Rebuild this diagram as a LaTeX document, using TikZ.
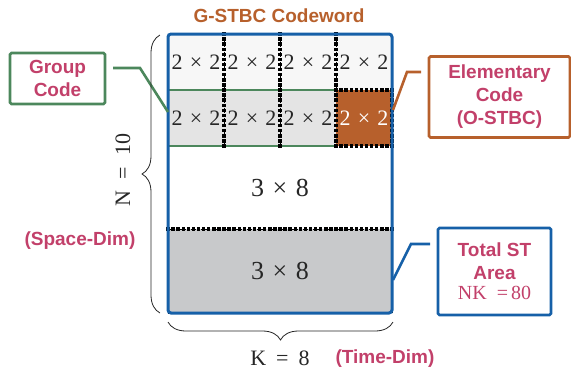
\documentclass[tikz,border=0pt]{standalone}
\usepackage{fontspec}
\setmainfont{Liberation Serif}
\setsansfont{Liberation Sans}
\usetikzlibrary{decorations.pathreplacing,calc}
\definecolor{cblue}{RGB}{22,96,168}
\definecolor{corange}{RGB}{183,96,44}
\definecolor{cgreen}{RGB}{76,135,92}
\definecolor{cmag}{RGB}{194,64,106}
\definecolor{rowA}{RGB}{247,247,247}
\definecolor{rowB}{RGB}{228,228,228}
\definecolor{rowD}{RGB}{200,201,203}
\newcommand{\bytimes}{\hspace{.33em}×\hspace{.33em}}
% row of small black squares between two points (#3 intervals)
\newcommand{\sqline}[3]{\foreach \k in {0,...,#3}{\fill[black] ($(#1)!\k/#3!(#2)$) +(-1.7,-1.7) rectangle +(1.7,1.7);}}
\begin{document}
\begin{tikzpicture}[x=1pt,y=-1pt,
  cell/.style={minimum width=56pt,minimum height=56pt,inner sep=0pt,outer sep=0pt,
    draw=black,dash pattern=on 2pt off 1.5pt,line width=0.6pt,font=\fontsize{22}{24}\selectfont,text=black!85},
  bigrow/.style={minimum width=224pt,inner sep=0pt,outer sep=0pt,
    font=\fontsize{26}{28}\selectfont,text=black!85},
  lab/.style={font=\sffamily\bfseries\fontsize{19}{23}\selectfont,text=cmag,align=center},
  callout/.style={lab,line width=2.6pt,rounded corners=1.5pt,inner sep=0pt,outer sep=0pt},
  conn/.style={line width=2.6pt},
  bracestyle/.style={decorate,decoration={brace,amplitude=18pt},line width=0.8pt,draw=black!85},
  mathlab/.style={font=\fontsize{22}{24}\selectfont,text=black!85}
]
\useasboundingbox (0,0) rectangle (571,370);

% title
\node[font=\sffamily\bfseries\fontsize{19}{23}\selectfont,text=corange] (title) at (279,16) {G-STBC Codeword};

% row 1
\node[cell,fill=rowA] (c11) at (196,62) {2\bytimes 2};
\node[cell,fill=rowA] (c12) at (252,62) {2\bytimes 2};
\node[cell,fill=rowA] (c13) at (308,62) {2\bytimes 2};
\node[cell,fill=rowA] (c14) at (364,62) {2\bytimes 2};
% row 2
\node[cell,fill=rowB] (c21) at (196,118) {2\bytimes 2};
\node[cell,fill=rowB] (c22) at (252,118) {2\bytimes 2};
\node[cell,fill=rowB] (c23) at (308,118) {2\bytimes 2};
\node[cell,fill=corange,text=white,draw=none] (c24) at (364,118) {2\bytimes 2};
% big rows
\node[bigrow,minimum height=83pt,fill=white] (r3) at (280,187.5) {3\bytimes 8};
\node[bigrow,minimum height=84pt,fill=rowD,draw=black,dash pattern=on 2pt off 1.5pt,line width=0.6pt] (r4) at (280,271) {3\bytimes 8};

% group code outline
\draw[cgreen,line width=2pt] (c21.north west) -- (c23.north east);
\draw[cgreen,line width=2pt] (c21.south west) -- (c23.south east);
% thick dotted dividers
\sqline{c11.north east}{c11.south east}{11}
\sqline{c12.north east}{c12.south east}{11}
\sqline{c13.north east}{c13.south east}{11}
\sqline{c21.north east}{c21.south east}{11}
\sqline{c22.north east}{c22.south east}{11}
\sqline{r4.north west}{r4.north east}{44}
% elementary cell outline
\sqline{c24.north west}{c24.north east}{11}
\sqline{c24.south west}{c24.south east}{11}
\sqline{c24.north west}{c24.south west}{11}
\sqline{c24.north east}{c24.south east}{11}
% outer blue frame
\draw[cblue,line width=3pt,rounded corners=3pt] (c11.north west) rectangle (r4.south east);

% callout boxes
\node[callout,draw=cgreen,minimum width=95pt,minimum height=51pt] (gbox) at (57.5,78.5) {Group\\Code};
\node[callout,draw=corange,minimum width=141pt,minimum height=81pt] (ebox) at (499.5,97) {Elementary\\Code\\(O-STBC)};
\node[callout,draw=cblue,minimum width=113pt,minimum height=87pt] (tbox) at (494.5,271.5)
  {Total ST\\Area\\[-3pt]{\rmfamily\mdseries\fontsize{20}{22}\selectfont NK\hspace{10pt}=\hspace{3pt}80}};

% connectors
\coordinate (g1) at (113,68); \coordinate (g2) at (140,68); \coordinate (g3) at (168,112);
\draw[conn,cgreen] (g1) -- (g2) -- (g3);
\coordinate (e1) at (421,72); \coordinate (e2) at (407,72); \coordinate (e3) at (393,110);
\draw[conn,corange] (e1) -- (e2) -- (e3);
\coordinate (t1) at (430,244); \coordinate (t2) at (411,244); \coordinate (t3) at (393,280);
\draw[conn,cblue] (t1) -- (t2) -- (t3);

% braces
\coordinate (lb1) at (160,313); \coordinate (lb2) at (160,35);
\draw[bracestyle] (lb1) -- (lb2);
\coordinate (bb1) at (393,322); \coordinate (bb2) at (168,322);
\draw[bracestyle] (bb1) -- (bb2);

% dimension labels
\node[mathlab,rotate=90] (nlab) at (123,170) {N\hspace{11pt}=\hspace{11pt}10};
\node[mathlab] (klab) at (280,358) {K\hspace{10pt}=\hspace{10pt}8};
\node[lab] (space) at (80,241) {(Space-Dim)};
\node[lab] (time) at (385,359) {(Time-Dim)};
\end{tikzpicture}
\end{document}
